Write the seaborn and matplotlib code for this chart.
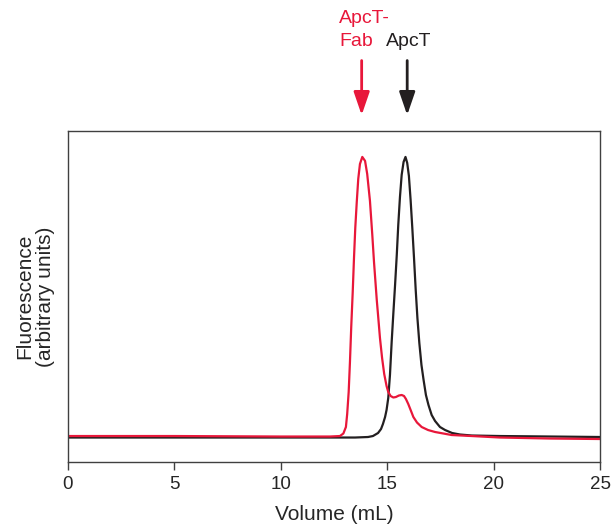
"""
Size-exclusion chromatogram: ApcT alone vs ApcT-Fab complex.
"""

import pandas as pd
import matplotlib
matplotlib.use('Agg')
import matplotlib.pyplot as plt
import seaborn as sns

# ApcT-Fab trace (red); signal scaled to peak = 100
fab_volume = [0.0, 5.0, 10.0, 12.31, 12.78, 12.94, 13.06, 13.12, 13.19, 13.25,
              13.31, 13.38, 13.44, 13.50, 13.57, 13.64, 13.72, 13.83, 13.96,
              14.06, 14.19, 14.30, 14.38, 14.51, 14.57, 14.66, 14.76, 14.86,
              14.97, 15.05, 15.16, 15.29, 15.41, 15.55, 15.68, 15.79, 15.88,
              15.99, 16.12, 16.23, 16.40, 16.62, 16.92, 17.25, 18.03, 18.97,
              20.30, 22.65, 25.0]
fab_signal = [8.52, 8.52, 8.36, 8.36, 8.52, 9.34, 11.48, 15.74, 22.95, 32.79,
              44.26, 55.74, 66.89, 76.72, 85.25, 92.79, 97.70, 100.0, 98.69,
              94.43, 85.57, 74.43, 65.57, 53.11, 48.20, 40.66, 34.10, 28.85,
              24.92, 22.95, 21.64, 21.15, 21.31, 21.80, 21.97, 21.64, 20.66,
              19.02, 16.72, 14.75, 12.95, 11.48, 10.49, 9.84, 8.85, 8.52,
              8.03, 7.70, 7.54]

# ApcT trace (black)
apct_volume = [0.0, 5.0, 10.0, 13.49, 14.10, 14.33, 14.57, 14.71, 14.80, 14.90,
               14.97, 15.05, 15.13, 15.21, 15.29, 15.37, 15.45, 15.52, 15.60,
               15.68, 15.77, 15.86, 15.94, 16.02, 16.10, 16.18, 16.26, 16.34,
               16.42, 16.51, 16.61, 16.71, 16.82, 16.94, 17.09, 17.25, 17.48,
               17.72, 18.05, 18.42, 18.97, 20.30, 22.65, 25.0]
apct_signal = [8.03, 8.03, 8.03, 8.03, 8.20, 8.52, 9.51, 10.82, 12.46, 14.75,
               17.05, 20.98, 28.52, 39.34, 48.85, 58.03, 67.87, 77.70, 86.89,
               94.10, 98.36, 100.0, 98.03, 93.77, 85.90, 76.72, 66.89, 56.39,
               47.21, 39.02, 31.80, 26.89, 21.97, 18.69, 15.41, 13.44, 11.48,
               10.49, 9.51, 9.02, 8.69, 8.52, 8.36, 8.20]

RED = '#e8173a'
BLACK = '#231f20'

fab_df = pd.DataFrame({'volume': fab_volume, 'signal': fab_signal})
apct_df = pd.DataFrame({'volume': apct_volume, 'signal': apct_signal})

sns.set_style('ticks')
plt.rcParams['font.family'] = ['Liberation Sans', 'DejaVu Sans']

fig = plt.figure(figsize=(6.13, 5.31), dpi=100)
ax = fig.add_axes([0.1109, 0.1299, 0.8679, 0.6234])

sns.lineplot(data=apct_df, x='volume', y='signal', color=BLACK, linewidth=1.6, ax=ax)
sns.lineplot(data=fab_df, x='volume', y='signal', color=RED, linewidth=1.6, ax=ax)

ax.set_xlim(0, 25)
ax.set_ylim(0, 108.5)
ax.set_xticks([0, 5, 10, 15, 20, 25])
ax.set_yticks([])
ax.tick_params(axis='x', labelsize=13.5, length=6, width=1, color='#404040', pad=4)
for side in ['left', 'right', 'top', 'bottom']:
    ax.spines[side].set_visible(True)
    ax.spines[side].set_color('#404040')
    ax.spines[side].set_linewidth(1.0)

ax.set_xlabel('Volume (mL)', fontsize=15, labelpad=9)
ax.set_ylabel('Fluorescence\n(arbitrary units)', fontsize=15, labelpad=9,
              linespacing=1.15)

# peak markers above the plot
arrow_style = '-|>,head_length=1.4,head_width=0.48'
ax.annotate('', xy=(13.80, 112.8), xytext=(13.80, 132.5), annotation_clip=False,
            arrowprops=dict(arrowstyle=arrow_style, color=RED, lw=2))
ax.annotate('', xy=(15.94, 112.8), xytext=(15.94, 132.5), annotation_clip=False,
            arrowprops=dict(arrowstyle=arrow_style, color=BLACK, lw=2))
ax.text(12.73, 141.6, 'ApcT-\nFab', color=RED, fontsize=14, ha='left', va='center',
        linespacing=1.4, clip_on=False)
ax.text(16.0, 137.7, 'ApcT', color=BLACK, fontsize=14, ha='center', va='center',
        clip_on=False)

fig.savefig('out.png', dpi=100)
